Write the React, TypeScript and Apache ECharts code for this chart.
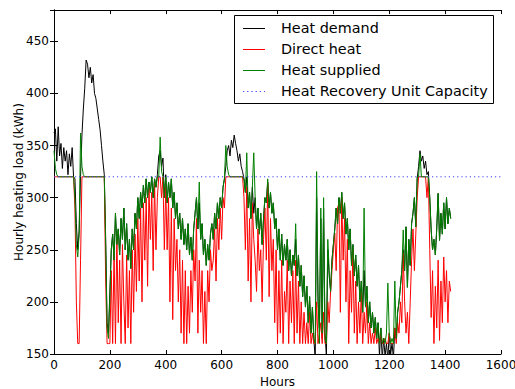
import React, { useEffect, useRef } from "react";
import * as echarts from "echarts";

// Sample spacing of the series (hours between samples)
const STEP_HOURS = 5;

// Heat demand (kWh), one value every 5 hours from hour 0
const demand = [
  362, 366, 335, 368, 340, 352, 328, 348, 335, 345, 322, 342, 330, 348, 320, 318, 275, 250, 268, 320,
  360, 385, 405, 432, 428, 415, 425, 410, 418, 400, 395, 385, 375, 365, 350, 335, 322, 260, 180, 170,
  210, 250, 265, 240, 285, 255, 270, 245, 280, 260, 290, 250, 275, 240, 260, 232, 270, 250, 285, 270,
  300, 280, 305, 290, 312, 295, 318, 300, 315, 305, 320, 300, 318, 310, 322, 340, 345, 330, 338, 300,
  322, 295, 315, 300, 318, 290, 305, 280, 295, 270, 285, 260, 280, 255, 270, 250, 275, 245, 262, 240,
  270, 285, 300, 270, 295, 260, 275, 245, 260, 235, 255, 240, 265, 275, 260, 285, 270, 295, 280, 300,
  290, 310, 318, 330, 345, 350, 340, 355, 348, 360, 352, 345, 335, 342, 330, 325, 318, 305, 320, 290,
  305, 280, 310, 285, 300, 270, 290, 265, 285, 255, 280, 300, 295, 315, 290, 305, 285, 295, 270, 280,
  250, 270, 240, 265, 235, 255, 240, 260, 230, 250, 225, 245, 235, 260, 225, 245, 215, 235, 205, 225,
  195, 215, 180, 205, 170, 195, 165, 145, 300, 200, 175, 280, 165, 290, 170, 148, 250, 225, 210, 240,
  255, 270, 290, 275, 300, 285, 305, 280, 295, 265, 280, 250, 270, 235, 255, 225, 245, 215, 235, 200,
  220, 190, 230, 195, 215, 180, 200, 175, 190, 170, 185, 165, 180, 148, 175, 145, 165, 148, 160, 145,
  170, 150, 160, 146, 175, 165, 190, 200, 215, 230, 250, 230, 272, 214, 260, 235, 275, 285, 300, 272,
  318, 330, 345, 335, 340, 328, 335, 322, 325, 300, 269, 250, 260, 245, 270, 304, 259, 285, 265, 295,
  270, 300, 275, 290, 280,
];

// Direct heat (kWh)
const directHeat = [
  320, 320, 320, 320, 320, 320, 320, 320, 320, 320, 320, 320, 320, 320, 320, 290, 200, 160, 160, 240,
  320, 320, 320, 320, 320, 320, 320, 320, 320, 320, 320, 320, 320, 320, 320, 320, 320, 220, 160, 160,
  160, 230, 160, 250, 160, 265, 180, 240, 160, 255, 200, 160, 245, 175, 230, 160, 250, 190, 265, 210,
  280, 220, 290, 200, 295, 240, 300, 215, 310, 260, 305, 230, 315, 250, 300, 320, 320, 300, 320, 250,
  310, 250, 300, 200, 290, 183, 280, 230, 260, 200, 250, 170, 240, 160, 230, 160, 215, 170, 230, 190,
  250, 220, 280, 170, 240, 190, 230, 160, 210, 160, 230, 200, 250, 230, 240, 270, 220, 280, 250, 290,
  260, 300, 290, 320, 320, 320, 320, 320, 320, 320, 320, 320, 320, 320, 320, 320, 300, 250, 310, 220,
  280, 200, 295, 260, 240, 210, 270, 230, 250, 200, 260, 290, 240, 314, 205, 280, 230, 260, 180, 250,
  160, 230, 170, 240, 160, 210, 190, 240, 160, 220, 180, 230, 160, 240, 170, 220, 160, 200, 160, 190,
  160, 180, 160, 190, 160, 170, 160, 160, 200, 160, 170, 180, 160, 190, 160, 160, 200, 180, 210, 230,
  250, 266, 230, 290, 295, 190, 300, 240, 280, 200, 260, 160, 230, 190, 250, 170, 220, 160, 200, 170,
  210, 160, 190, 170, 200, 160, 180, 160, 170, 160, 175, 160, 165, 160, 170, 160, 160, 165, 160, 160,
  170, 160, 160, 160, 175, 160, 180, 170, 200, 180, 247, 200, 170, 190, 160, 200, 240, 270, 230, 265,
  300, 320, 320, 320, 320, 320, 320, 300, 320, 250, 185, 230, 160, 215, 175, 240, 163, 220, 180, 243,
  200, 230, 180, 220, 210,
];

// Heat supplied (kWh)
const heatSupplied = [
  345, 328, 322, 320, 320, 320, 320, 320, 320, 320, 320, 320, 320, 320, 320, 300, 255, 243, 265, 362,
  330, 322, 320, 320, 320, 320, 320, 320, 320, 320, 320, 320, 320, 320, 320, 320, 320, 255, 175, 165,
  205, 250, 265, 240, 285, 255, 270, 245, 280, 260, 290, 250, 275, 240, 260, 232, 270, 250, 285, 270,
  300, 280, 305, 290, 312, 295, 318, 300, 315, 305, 320, 300, 318, 310, 320, 320, 358, 325, 320, 300,
  320, 295, 315, 300, 318, 290, 305, 280, 295, 270, 285, 260, 280, 255, 270, 250, 275, 245, 262, 240,
  270, 285, 300, 270, 315, 260, 275, 245, 260, 235, 255, 240, 265, 275, 260, 285, 270, 295, 280, 300,
  290, 310, 318, 350, 330, 322, 320, 320, 320, 320, 320, 320, 320, 320, 320, 320, 318, 305, 343, 290,
  305, 280, 310, 343, 300, 270, 290, 265, 285, 255, 280, 300, 295, 318, 290, 305, 285, 295, 270, 280,
  250, 270, 240, 265, 235, 255, 240, 260, 230, 250, 225, 245, 235, 275, 225, 245, 215, 235, 205, 225,
  195, 215, 180, 205, 170, 195, 165, 160, 325, 210, 160, 290, 170, 300, 165, 160, 260, 230, 210, 240,
  255, 270, 290, 275, 300, 285, 305, 280, 295, 265, 280, 250, 270, 235, 255, 225, 245, 215, 235, 200,
  220, 190, 290, 195, 215, 180, 200, 175, 190, 170, 185, 165, 180, 160, 175, 160, 165, 160, 170, 218,
  170, 160, 165, 160, 220, 165, 190, 200, 215, 230, 269, 230, 272, 214, 260, 235, 275, 285, 300, 272,
  320, 320, 342, 320, 320, 320, 320, 320, 320, 300, 269, 250, 260, 245, 270, 304, 259, 285, 265, 295,
  270, 300, 275, 290, 280,
];

// Heat Recovery Unit Capacity (kWh) and the hours it spans
const capacityValue = 320;
const capacityHours = [0, 1600];

const legendNames = ["Heat demand", "Direct heat", "Heat supplied", "Heat Recovery Unit Capacity"];

const FONT = "DejaVu Sans";

const toPairs = (arr: number[]) => arr.map((v, i) => [i * STEP_HOURS, v]);

export default function App() {
  const ref = useRef<HTMLDivElement>(null);

  useEffect(() => {
    document.body.style.margin = "0";
    if (!ref.current) return;
    const chart = echarts.init(ref.current, undefined, { renderer: "svg" });

    const axisCommon = {
      axisLine: { show: true, lineStyle: { color: "#000", width: 1 } },
      axisTick: { show: true, inside: true, length: 4, lineStyle: { color: "#000", width: 1 } },
      splitLine: { show: false },
    };

    const legendColors = ["#000000", "#ff0000", "#008000", "#3c3cff"];
    const legendRowY = [28, 49, 70, 91];

    const legendGraphics: any[] = [
      {
        type: "rect",
        z: 100,
        shape: { x: 234.5, y: 15.5, width: 259, height: 88 },
        style: { fill: "#ffffff", stroke: "#000000", lineWidth: 1 },
      },
    ];
    legendNames.forEach((name, i) => {
      legendGraphics.push({
        type: "line",
        z: 101,
        shape: { x1: 243, y1: legendRowY[i] + 0.5, x2: 265, y2: legendRowY[i] + 0.5 },
        style: {
          stroke: legendColors[i],
          lineWidth: 1,
          lineDash: i === 3 ? [1.2, 3] : null,
        },
      });
      legendGraphics.push({
        type: "text",
        z: 101,
        x: 281,
        y: legendRowY[i],
        style: {
          text: name,
          fill: "#000",
          font: `14.4px "${FONT}"`,
          verticalAlign: "middle",
          align: "left",
        },
      });
    });

    const plainNumber = (v: number) => String(v);

    chart.setOption({
      animation: false,
      backgroundColor: "#ffffff",
      textStyle: { fontFamily: FONT },
      grid: {
        left: 54,
        right: 14,
        top: 10,
        bottom: 35,
        containLabel: false,
        outerBoundsMode: "none",
      },
      xAxis: [
        {
          type: "value",
          min: 0,
          max: 1600,
          interval: 200,
          position: "bottom",
          name: "Hours",
          nameLocation: "middle",
          nameGap: 21,
          nameTextStyle: { color: "#000", fontSize: 12, fontFamily: FONT },
          axisLabel: {
            color: "#000",
            fontSize: 12,
            fontFamily: FONT,
            margin: 5,
            formatter: plainNumber,
            hideOverlap: false,
          },
          ...axisCommon,
        },
        {
          type: "value",
          min: 0,
          max: 1600,
          interval: 200,
          position: "top",
          axisLabel: { show: false },
          ...axisCommon,
        },
      ],
      yAxis: [
        {
          type: "value",
          min: 150,
          max: 480,
          interval: 50,
          position: "left",
          name: "Hourly heating load (kWh)",
          nameLocation: "middle",
          nameGap: 29,
          nameMoveOverlap: false,
          nameTextStyle: { color: "#000", fontSize: 12, fontFamily: FONT },
          axisLabel: {
            color: "#000",
            fontSize: 12,
            fontFamily: FONT,
            margin: 5,
            showMaxLabel: false,
            formatter: plainNumber,
          },
          ...axisCommon,
        },
        {
          type: "value",
          min: 150,
          max: 480,
          interval: 50,
          position: "right",
          axisLabel: { show: false },
          ...axisCommon,
        },
      ],
      series: [
        {
          name: legendNames[0],
          type: "line",
          data: toPairs(demand),
          symbol: "none",
          showSymbol: false,
          clip: true,
          lineStyle: { color: "#000000", width: 1 },
          itemStyle: { color: "#000000" },
          z: 2,
        },
        {
          name: legendNames[1],
          type: "line",
          data: toPairs(directHeat),
          symbol: "none",
          showSymbol: false,
          clip: true,
          lineStyle: { color: "#ff0000", width: 1 },
          itemStyle: { color: "#ff0000" },
          z: 3,
        },
        {
          name: legendNames[2],
          type: "line",
          data: toPairs(heatSupplied),
          symbol: "none",
          showSymbol: false,
          clip: true,
          lineStyle: { color: "#008000", width: 1 },
          itemStyle: { color: "#008000" },
          z: 4,
        },
        {
          name: legendNames[3],
          type: "line",
          data: capacityHours.map((h) => [h, capacityValue]),
          symbol: "none",
          showSymbol: false,
          clip: true,
          lineStyle: { color: "#3c3cff", width: 1, type: [1.2, 3] },
          itemStyle: { color: "#3c3cff" },
          z: 5,
        },
      ],
      graphic: legendGraphics,
    });

    return () => chart.dispose();
  }, []);

  return (
    <div
      ref={ref}
      style={{ width: 515, height: 389, position: "absolute", left: 0, top: 0 }}
    />
  );
}
